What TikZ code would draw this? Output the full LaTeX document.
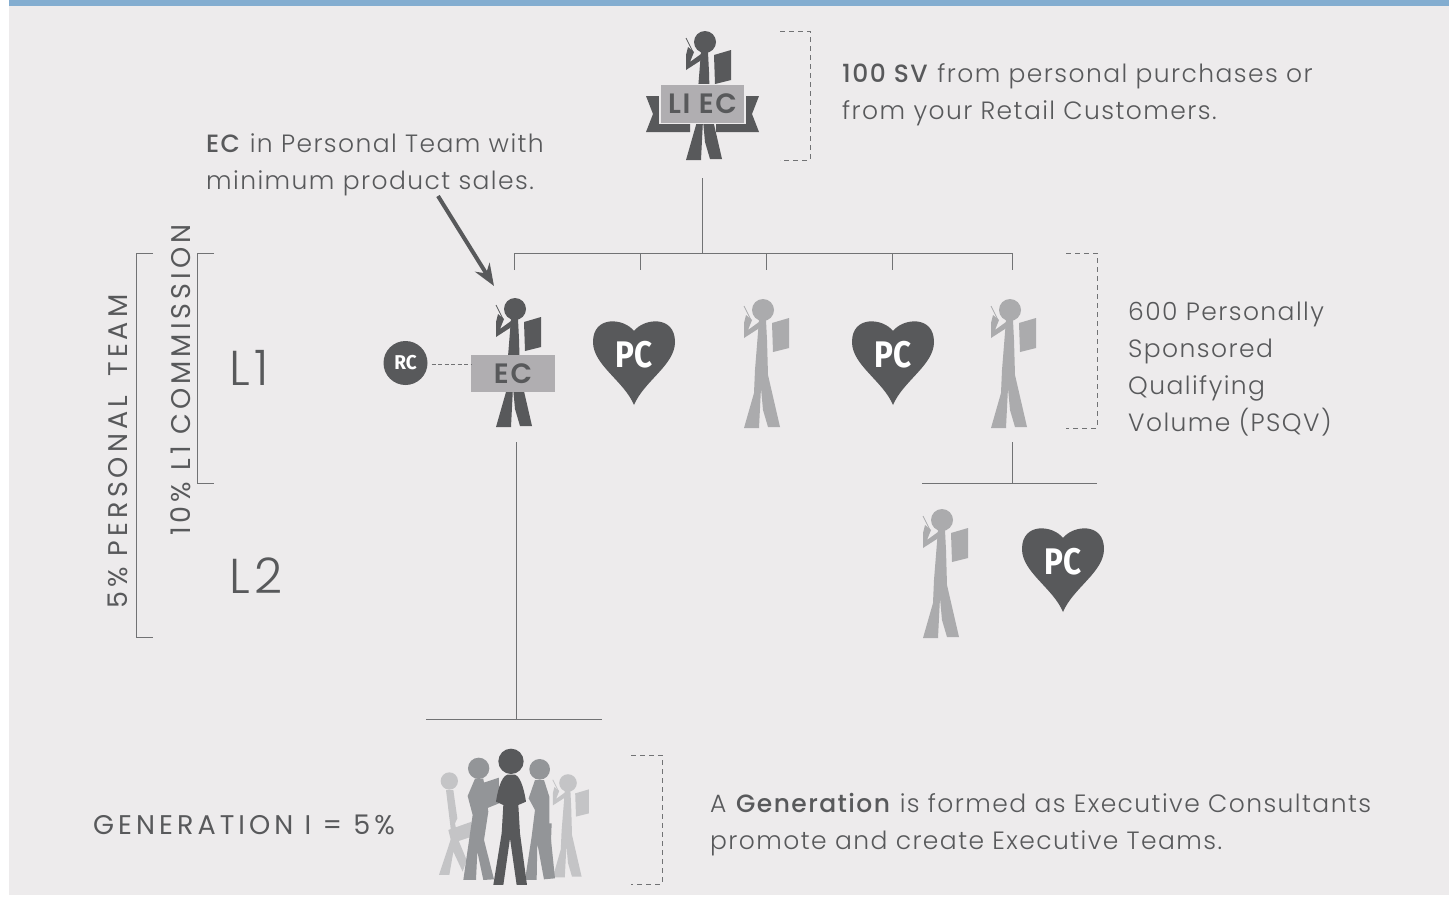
\documentclass[tikz,border=0pt]{standalone}
\usepackage{fontspec}
\usetikzlibrary{arrows.meta}
\setmainfont{Poppins Light}[BoldFont=Poppins Medium,LetterSpace=5.7]
\newfontfamily\capsfont{Poppins}[LetterSpace=15]
\newfontfamily\levelfont{Poppins Light}[LetterSpace=10]
\newfontfamily\platefont{Poppins SemiBold}[LetterSpace=6]
\newfontfamily\pcfont{Fira Sans Bold}
\definecolor{darkfig}{HTML}{58595B}
\definecolor{midfig}{HTML}{939598}
\definecolor{greyfig}{HTML}{ABABAD}
\definecolor{lightfig}{HTML}{C4C4C6}
\definecolor{plate}{HTML}{B0AEB1}
\definecolor{paper}{HTML}{EDEBEC}
\definecolor{topband}{HTML}{83ADD0}
\tikzset{
  treeline/.style={draw=darkfig!85, line width=1pt},
  dashbracket/.style={draw=darkfig!85, line width=1pt, dash pattern=on 5pt off 4pt},
  caption/.style={inner sep=0, anchor=base west, text=darkfig, font=\fontsize{25}{37}\selectfont, align=left},
  capslabel/.style={caption, font=\capsfont\fontsize{27}{37}\selectfont},
  levellabel/.style={caption, font=\levelfont\fontsize{49}{49}\selectfont},
  platelabel/.style={fill=plate, inner sep=0, text=darkfig, font=\platefont\fontsize{28}{28}\selectfont},
  pclabel/.style={text=white, font=\pcfont\fontsize{37}{37}\selectfont, inner sep=0},
  person/.pic={
    \fill (0,0) circle [radius=11];
    \draw[line width=0.8pt] (-19,-4) -- (-12,10);
    \fill (-17,5) -- (-11,10) -- (-15,20) -- (-4,12) -- (-2,17) -- (-19,28) -- (-19,13) -- cycle;
    \fill (9,13) -- (26,8) -- (26,38) -- (10,42) -- cycle;
    \fill (-4,10) -- (-8,60) -- (-9,83) -- (-19,118) -- (-4,118) -- (-2,78) -- (0,100) -- (5,117) -- (17,117) -- (5,65) -- (4,30) -- (3,10) -- cycle;
  },
  heart/.pic={
    \fill (0,-24) .. controls (-10,-37) and (-41,-40) .. (-41,-13)
      .. controls (-41,10) and (-10,26) .. (0,50)
      .. controls (10,26) and (41,10) .. (41,-13)
      .. controls (41,-40) and (10,-37) .. (0,-24) -- cycle;
  }
}
\newcommand{\pclabel}{\scalebox{.85}[1]{PC}}
\begin{document}
\begin{tikzpicture}[x=1pt, y=-1pt]
  \useasboundingbox (0,0) rectangle (1452,897);
  \fill[paper] (9,0) rectangle (1449,895);
  \fill[topband] (9,0) rectangle (1449,6);

  % top consultant
  \pic[darkfig] at (705,42) {person};
  \fill[darkfig] (646,96) -- (662,96) -- (690,124) -- (690,132) -- (646,132) -- (653,114) -- cycle;
  \fill[darkfig] (759,96) -- (743,96) -- (716,124) -- (716,132) -- (759,132) -- (752,114) -- cycle;
  \node[platelabel, draw=paper, line width=1.2pt, minimum width=85pt, minimum height=39pt] (liec) at (702.5,104) {LI EC};
  \coordinate (liecstem) at (702,178);
  \coordinate (busmid) at (702,253);
  \coordinate (busleft) at (514,253);
  \coordinate (busright) at (1012,253);

  % first level
  \pic[darkfig] at (515,309) {person};
  \node[platelabel, minimum width=84pt, minimum height=37pt] (ec) at (513,373.5) {EC};
  \pic[darkfig] at (634,355) {heart};
  \node[pclabel] (pcone) at (634,355) {\pclabel};
  \pic[greyfig] at (763,310) {person};
  \pic[darkfig] at (893,355) {heart};
  \node[pclabel] (pctwo) at (893,355) {\pclabel};
  \pic[greyfig] at (1010,310) {person};
  \node[circle, fill=darkfig, minimum size=44pt, inner sep=0, text=white, font=\pcfont\fontsize{20}{20}\selectfont] (rc) at (405.5,363) {\scalebox{.95}[1]{RC}};
  \draw[dashbracket, dash pattern=on 4pt off 2.5pt] (rc.east) ++(4,1) coordinate (rcdash) -- (rcdash -| ec.west);

  % second level
  \pic[greyfig] at (942,520) {person};
  \pic[darkfig] at (1063,562) {heart};
  \node[pclabel] (pcthree) at (1063,562) {\pclabel};

  % tree
  \draw[treeline] (liecstem) -- (busmid);
  \draw[treeline] (busleft |- 0,270) -- (busleft) -- (busright) -- (busright |- 0,270);
  \foreach \tickx in {640,766,892} \draw[treeline] (\tickx,253) -- (\tickx,270);
  \coordinate (ecstem) at (516,442);
  \coordinate (gentree) at (516,719);
  \draw[treeline] (ecstem) -- (gentree);
  \draw[treeline] (426,719) -- (602,719);
  \coordinate (greystem) at (1012,442);
  \coordinate (greytree) at (1012,483);
  \draw[treeline] (greystem) -- (greytree);
  \draw[treeline] (922,483) -- (1097,483);

  % group
  \begin{scope}[shift={(420,740)}, x=0.3333pt, y=-0.3333pt]
    \fill[lightfig] (88,123) circle [radius=26];
    \fill[lightfig] (78,150) -- (100,150) -- (112,235) -- (105,250) -- (115,300) -- (140,360) -- (128,395) -- (100,335) -- (88,405) -- (57,405) -- (95,290) -- cycle;
    \fill[lightfig] (85,270) -- (155,245) -- (155,290) -- (95,310) -- cycle;
  \end{scope}
  \pic[lightfig, scale=.8] at (568,783) {person};
  \begin{scope}[shift={(420,740)}, x=0.3333pt, y=-0.3333pt]
    \fill[midfig] (176,85) circle [radius=32];
    \fill[midfig] (165,116) -- (190,116) -- (205,215) -- (192,300) -- (222,418) -- (190,420) -- (172,335) -- (168,420) -- (130,420) -- (158,225) -- (143,168) -- cycle;
    \fill[midfig] (185,130) -- (237,113) -- (237,190) -- (188,210) -- cycle;
    \fill[midfig] (359,88) circle [radius=31];
    \fill[midfig] (345,120) -- (372,120) -- (388,170) -- (388,250) -- (405,415) -- (372,418) -- (352,310) -- (350,420) -- (315,420) -- (335,290) -- (345,210) -- (326,175) -- cycle;
    \fill[midfig] (380,250) -- (395,250) -- (392,335) -- (382,335) -- cycle;
    \fill[darkfig] (273,64) circle [radius=38];
    \fill[darkfig] (262,104) -- (285,104) .. controls (305,110) and (315,165) .. (318,185) -- (295,195) -- (300,280) -- (321,435) -- (290,435) -- (270,295) -- (250,435) -- (220,435) -- (245,280) -- (250,195) -- (228,185) .. controls (231,165) and (241,110) .. (262,104) -- cycle;
  \end{scope}

  % brackets
  \draw[dashbracket] (780,31) -- (810,31) -- (810,160) -- (780,160);
  \draw[dashbracket] (1066,253) -- (1097,253) -- (1097,428) -- (1066,428);
  \draw[dashbracket] (631,755) -- (662,755) -- (662,884) -- (631,884);
  \draw[treeline] (153,253) -- (136,253) -- (136,637) -- (153,637);
  \draw[treeline] (214,253) -- (197,253) -- (197,483) -- (214,483);

  % texts
  \node[caption] (svnote) at (842,119) {\textbf{100 SV} from personal purchases or\\from your Retail Customers.};
  \node[caption] (ecnote) at (206,189) {\textbf{EC} in Personal Team with\\minimum product sales.};
  \node[caption] (psqvnote) at (1128,431) {600 Personally\\Sponsored\\Qualifying\\Volume (PSQV)};
  \node[caption] (gennote) at (710,849) {A \textbf{Generation} is formed as Executive Consultants\\promote and create Executive Teams.};
  \node[capslabel] (genlabel) at (93,834) {GENERATION I = 5\%};
  \node[levellabel] (lone) at (229,385.5) {L1};
  \node[levellabel] (ltwo) at (229,593.5) {L2};
  \node[capslabel, rotate=90] (teamlabel) at (127,609) {5\% PERSONAL\hspace{8pt} TEAM};
  \node[capslabel, rotate=90] (commlabel) at (190,536) {10\% L1 COMMISSION};
  \coordinate (arrowfoot) at (438,196);
  \coordinate (arrowhead) at (494,286);
  \draw[darkfig, line width=4pt, -{Stealth[length=22pt,width=17pt]}] (arrowfoot) -- (arrowhead);
\end{tikzpicture}
\end{document}
